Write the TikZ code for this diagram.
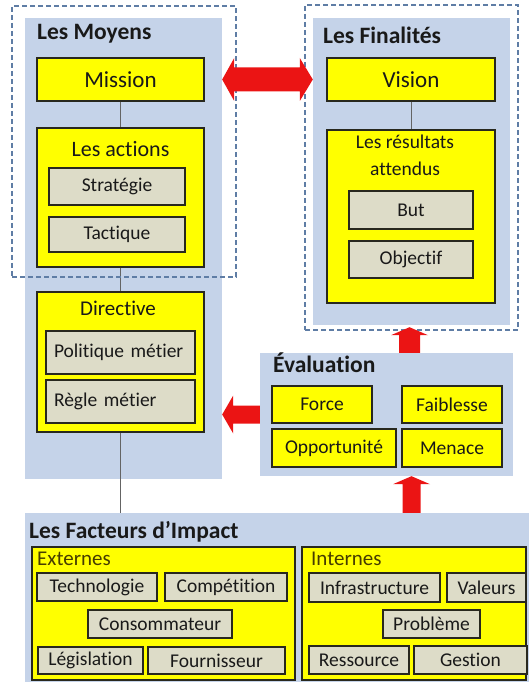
\documentclass[tikz,border=0pt]{standalone}
\usepackage{fontspec}
\setmainfont{Carlito}[Ligatures=NoCommon]
\usetikzlibrary{calc}
\definecolor{panelblue}{RGB}{197,211,233}
\definecolor{dashblue}{RGB}{95,125,165}
\definecolor{boxyellow}{RGB}{255,255,0}
\definecolor{boxgray}{RGB}{221,220,200}
\definecolor{edgecol}{RGB}{40,40,30}
\definecolor{textdark}{RGB}{25,25,25}
\definecolor{labelolive}{RGB}{70,60,0}
\definecolor{arrowred}{RGB}{235,20,20}
\definecolor{linegray}{RGB}{100,100,100}
\tikzset{
  panel/.style={fill=panelblue, draw=none, inner sep=0pt},
  dashbox/.style={draw=dashblue, line width=1.2pt, dash pattern=on 5pt off 3pt, inner sep=0pt},
  ybox/.style={fill=boxyellow, draw=edgecol, line width=1.4pt, inner sep=0pt, text=textdark},
  gbox/.style={fill=boxgray, draw=edgecol, line width=1.4pt, inner sep=0pt, text=textdark,
    font=\fontsize{19.5}{22}\selectfont},
  ttl/.style={anchor=base west, inner sep=0pt, text=textdark, font=\bfseries\fontsize{23.5}{28}\selectfont},
  sublabel/.style={anchor=base, inner sep=0pt, text=textdark},
  grouplabel/.style={anchor=base west, inner sep=0pt, text=labelolive, font=\fontsize{21}{24}\selectfont},
  conn/.style={draw=linegray, line width=0.8pt},
  bigarrow/.style={fill=arrowred, draw=none}
}
\begin{document}
\begin{tikzpicture}[x=1pt, y=-1pt]
\path[use as bounding box] (0,0) rectangle (529,684);

% panels
\node[panel, minimum width=197pt, minimum height=461pt] (moyens) at (123.5,248.5) {};
\node[panel, minimum width=197pt, minimum height=307pt] (finpanel) at (411.5,171.5) {};
\node[panel, minimum width=253pt, minimum height=123pt] (eval) at (386.5,414.5) {};
\node[panel, minimum width=504pt, minimum height=169pt] (fact) at (277,597.5) {};

% titles
\node[ttl] (tmoy) at (37,40) {Les Moyens};
\node[ttl] (tfin) at (323,44) {Les Finalités};
\node[ttl] (teval) at (273,372) {Évaluation};
\node[ttl] (tfact) at (29,538) {Les Facteurs d’Impact};

% Les Moyens
\node[ybox, minimum width=167pt, minimum height=43pt, font=\fontsize{23}{27}\selectfont] (mission) at (120.5,79.5) {Mission};
\node[ybox, minimum width=167pt, minimum height=139pt] (actions) at (120.5,197.5) {};
\node[sublabel, font=\fontsize{22}{26}\selectfont] (tact) at (120.5,157) {Les actions};
\node[gbox, minimum width=136pt, minimum height=37pt] (strat) at (117,186.5) {Stratégie};
\node[gbox, minimum width=136pt, minimum height=35pt] (tact2) at (117,234.5) {Tactique};

\node[ybox, minimum width=167pt, minimum height=140pt] (directive) at (120.5,362) {};
\node[sublabel, font=\fontsize{21}{25}\selectfont] (tdir) at (118,315) {Directive};
\node[gbox, minimum width=149pt, minimum height=43pt, text width=133pt, align=left] (polit) at (120.5,352.5) {Politique métier};
\node[gbox, minimum width=149pt, minimum height=43pt, text width=133pt, align=left] (regle) at (120.5,401.5) {Règle métier};

% Les Finalités
\node[ybox, minimum width=168pt, minimum height=43pt, font=\fontsize{23}{27}\selectfont] (vision) at (411,79.5) {Vision};
\node[ybox, minimum width=168pt, minimum height=173pt] (result) at (411,216.5) {};
\node[sublabel, font=\fontsize{19.5}{23}\selectfont] (tres1) at (405,149) {Les résultats};
\node[sublabel, font=\fontsize{19.5}{23}\selectfont] (tres2) at (405,176) {attendus};
\node[gbox, minimum width=124pt, minimum height=38pt] (but) at (411,210) {But};
\node[gbox, minimum width=124pt, minimum height=37pt] (objectif) at (411,259.5) {Objectif};

% Evaluation
\node[ybox, minimum width=100pt, minimum height=37pt, font=\fontsize{19.5}{22}\selectfont] (force) at (322,404.5) {Force};
\node[ybox, minimum width=100pt, minimum height=37pt, font=\fontsize{19.5}{22}\selectfont] (faiblesse) at (452,404.5) {Faiblesse};
\node[ybox, minimum width=124pt, minimum height=38pt, font=\fontsize{19.5}{22}\selectfont] (opport) at (334,448) {Opportunité};
\node[ybox, minimum width=100pt, minimum height=38pt, font=\fontsize{19.5}{22}\selectfont] (menace) at (452,448) {Menace};

% Facteurs
\node[ybox, minimum width=263pt, minimum height=133pt] (externes) at (163.5,613.5) {};
\node[ybox, minimum width=224pt, minimum height=133pt] (internes) at (414,613.5) {};
\node[grouplabel] (text) at (37,565) {Externes};
\node[grouplabel] (tint) at (311,565) {Internes};
\node[gbox, minimum width=120pt, minimum height=28pt] (techno) at (97,587) {Technologie};
\node[gbox, minimum width=122pt, minimum height=28pt] (compet) at (226,587) {Compétition};
\node[gbox, minimum width=144pt, minimum height=28pt] (conso) at (160,624) {Consommateur};
\node[gbox, minimum width=105pt, minimum height=27pt] (legis) at (90.5,660.5) {Législation};
\node[gbox, minimum width=137pt, minimum height=27pt] (fourn) at (216.5,660.5) {Fournisseur};
\node[gbox, minimum width=131pt, minimum height=29pt] (infra) at (374.5,587.5) {Infrastructure};
\node[gbox, minimum width=79pt, minimum height=29pt] (valeurs) at (486.5,587.5) {Valeurs};
\node[gbox, minimum width=97pt, minimum height=28pt] (probleme) at (431.5,624) {Problème};
\node[gbox, minimum width=100pt, minimum height=28pt] (ressource) at (359,660) {Ressource};
\node[gbox, minimum width=113pt, minimum height=28pt] (gestion) at (470.5,660) {Gestion};

% connectors
\draw[conn] (mission.south) -- (mission.south |- actions.north);
\draw[conn] (mission.south |- actions.south) -- (mission.south |- directive.north);
\draw[conn] (mission.south |- directive.south) -- (mission.south |- fact.north);
\draw[conn] (vision.south) -- (vision.south |- result.north);

% dashed groups
\node[dashbox, minimum width=224pt, minimum height=271pt] (dmoy) at (124,141.5) {};
\node[dashbox, minimum width=213pt, minimum height=325pt] (dfin) at (411.5,167.5) {};

% big arrows
\coordinate (dl) at (moyens.east |- mission.center);
\coordinate (dr) at (finpanel.west |- vision.center);
\fill[bigarrow] (dl) -- ($(dl)+(12,-21.5)$) -- ($(dl)+(12,-12)$) -- ($(dr)+(-13,-12)$)
  -- ($(dr)+(-13,-21.5)$) -- (dr) -- ($(dr)+(-13,21.5)$) -- ($(dr)+(-13,12)$)
  -- ($(dl)+(12,12)$) -- ($(dl)+(12,21.5)$) -- cycle;

\coordinate (la) at (moyens.east |- eval.center);
\fill[bigarrow] (la) -- ($(la)+(11,-19)$) -- ($(la)+(11,-9)$) -- ($(eval.west)+(0,-9)$)
  -- ($(eval.west)+(0,9)$) -- ($(la)+(11,9)$) -- ($(la)+(11,19)$) -- cycle;

\coordinate (ut) at ($(finpanel.south)+(-2,2)$);
\coordinate (ub) at (ut |- eval.north);
\fill[bigarrow] (ut) -- ($(ut)+(18.5,8)$) -- ($(ut)+(10.5,8)$) -- ($(ub)+(10.5,0)$)
  -- ($(ub)+(-10.5,0)$) -- ($(ut)+(-10.5,8)$) -- ($(ut)+(-18.5,8)$) -- cycle;

\coordinate (vt) at (finpanel.south |- eval.south);
\coordinate (vb) at (finpanel.south |- fact.north);
\fill[bigarrow] (vt) -- ($(vt)+(18.5,8)$) -- ($(vt)+(9,8)$) -- ($(vb)+(9,0)$)
  -- ($(vb)+(-9,0)$) -- ($(vt)+(-9,8)$) -- ($(vt)+(-18.5,8)$) -- cycle;
\end{tikzpicture}
\end{document}
